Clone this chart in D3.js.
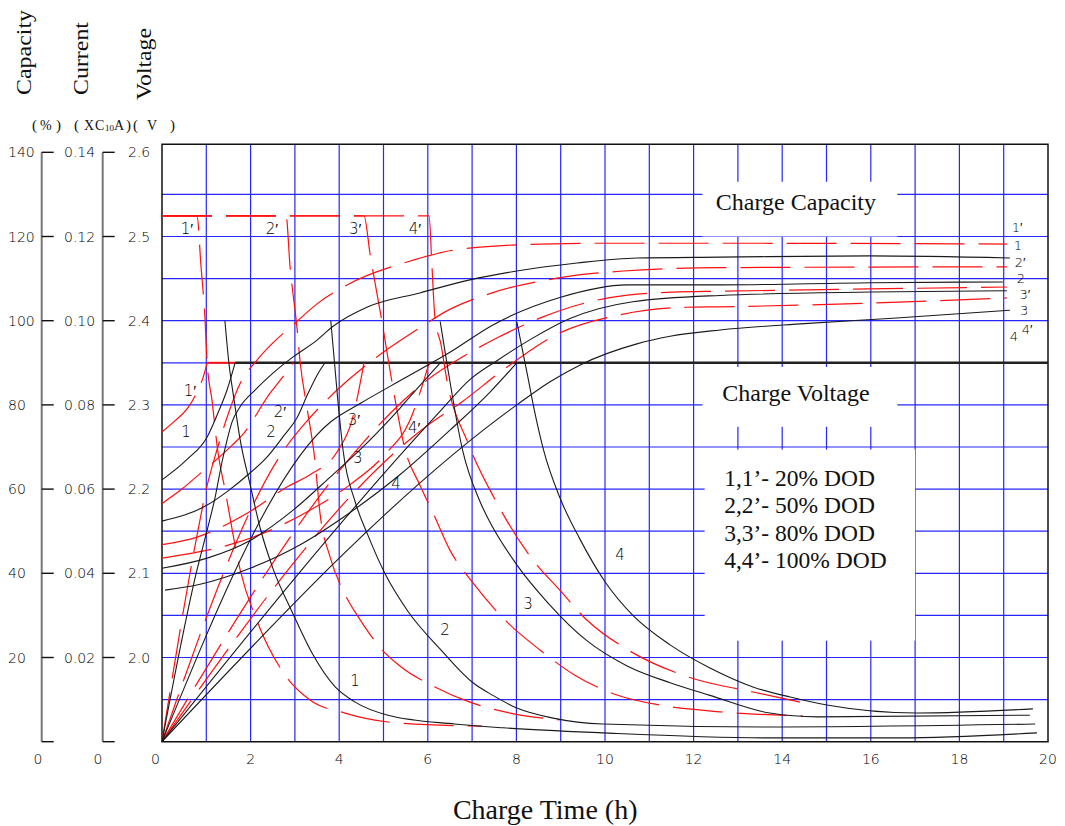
<!DOCTYPE html>
<html>
<head>
<meta charset="utf-8">
<script src="https://cdn.jsdelivr.net/npm/d3@7"></script>
<style>
  body { margin: 0; background: #fff; }
  svg { display: block; }
  .num { font-family: "DejaVu Sans", sans-serif; font-weight: 300; fill: #000; }
  .serif { font-family: "Liberation Serif", "Times New Roman", serif; fill: #111; }
</style>
</head>
<body>
<svg id="chart" width="1065" height="826"></svg>
<script>
// ---- data ----
var hourTicks = [0, 2, 4, 6, 8, 10, 12, 14, 16, 18, 20]
var capacityTicks = [140, 120, 100, 80, 60, 40, 20]
var currentTicks = ["0.14", "0.12", "0.10", "0.08", "0.06", "0.04", "0.02"]
var voltageTicks = ["2.6", "2.5", "2.4", "2.3", "2.2", "2.1", "2.0"]
var legendLines = ["1,1\u2019- 20% DOD", "2,2\u2019- 50% DOD", "3,3\u2019- 80% DOD", "4,4\u2019- 100% DOD"]

var chargeVoltage = 2.35
var chargeVoltageStart = 1.65

// current (xC10A) vs hours, solid black
var current1 = [[1.42,0.100],[1.51,0.090],[1.63,0.081],[1.76,0.072],[1.99,0.061],[2.21,0.051],[2.51,0.041],[2.93,0.031],[3.39,0.021],[3.91,0.013],[4.36,0.0094],[5.10,0.0063],[6.61,0.0042],[7.70,0.0033],[9.95,0.0021],[13.72,0.0009],[16.66,0.0009],[19.75,0.0021]]
var current2 = [[3.81,0.100],[3.97,0.081],[4.09,0.069],[4.36,0.057],[4.65,0.049],[5.03,0.040],[5.55,0.031],[6.28,0.022],[7.02,0.014],[7.47,0.011],[8.01,0.008],[8.83,0.0056],[9.95,0.0042],[13.72,0.0035],[19.71,0.0042]]
var current3 = [[6.28,0.0998],[6.43,0.090],[6.79,0.069],[7.18,0.057],[7.36,0.053],[8.01,0.042],[8.71,0.033],[9.59,0.024],[10.50,0.018],[11.47,0.014],[12.37,0.011],[13.72,0.0068],[14.79,0.0059],[19.59,0.0063]]
var current4 = [[8.01,0.0997],[8.24,0.0876],[8.42,0.078],[8.62,0.069],[8.98,0.058],[9.44,0.048],[10.0,0.038],[10.63,0.030],[11.47,0.023],[12.37,0.0175],[13.34,0.013],[14.18,0.0106],[15.01,0.0087],[17.04,0.0068],[19.66,0.0078]]
// current, dashed red
var current1p = [[0,0.1249],[0.79,0.1249],[0.88,0.113],[0.97,0.1006],[1.02,0.090],[1.13,0.081],[1.26,0.069],[1.42,0.060],[1.76,0.041],[2.17,0.028],[2.78,0.0158],[3.34,0.0099],[4.13,0.0068],[5.37,0.0044],[7.22,0.0037]]
var current2p = [[0,0.1249],[2.80,0.1249],[2.89,0.113],[3.05,0.098],[3.12,0.090],[3.27,0.0795],[3.45,0.067],[3.57,0.054],[3.79,0.044],[4.13,0.035],[4.47,0.029],[4.97,0.0218],[5.37,0.018],[6.16,0.013],[6.95,0.0094],[7.86,0.0068],[8.98,0.0052]]
var current3p = [[0,0.1249],[4.56,0.1249],[4.70,0.1156],[4.97,0.0995],[5.21,0.0843],[5.49,0.0693],[5.82,0.061],[6.12,0.0543],[6.50,0.0455],[7.02,0.0377],[7.79,0.0284],[8.53,0.0218],[9.32,0.0158],[10.27,0.0111],[11.24,0.0087],[12.60,0.0071],[14.47,0.0061]]
var current4p = [[0,0.1249],[6.03,0.1249],[6.09,0.1137],[6.16,0.1009],[6.30,0.0942],[6.43,0.0859],[6.91,0.0709],[7.56,0.0567],[8.37,0.0432],[8.98,0.036],[9.59,0.0289],[10.52,0.0218],[11.87,0.0154],[13.34,0.0118],[14.40,0.0094]]

// voltage (V) vs hours
var voltage1 = [[0,2.211],[0.56,2.235],[1.02,2.262],[1.26,2.290],[1.47,2.318],[1.65,2.350]]
var voltage2 = [[0,2.162],[1.02,2.181],[1.47,2.197],[1.94,2.217],[2.37,2.238],[2.73,2.262],[3.05,2.285],[3.30,2.314],[3.52,2.337],[3.68,2.350]]
var voltage3 = [[0,2.106],[1.02,2.118],[1.99,2.139],[2.96,2.175],[3.79,2.214],[4.63,2.255],[5.37,2.296],[5.82,2.323],[6.28,2.350]]
var voltage4 = [[0.07,2.080],[0.86,2.087],[1.99,2.106],[3.12,2.134],[4.24,2.172],[5.37,2.217],[6.50,2.270],[7.40,2.315],[8.01,2.350]]
var voltage1p = [[0,2.268],[0.29,2.281],[0.59,2.297],[0.79,2.315],[0.93,2.333],[1.02,2.350]]
var voltage2p = [[0,2.183],[0.47,2.201],[0.74,2.213],[1.58,2.252],[1.81,2.264],[2.44,2.314],[2.71,2.332],[2.96,2.350]]
var voltage3p = [[0,2.134],[0.79,2.143],[1.94,2.172],[2.84,2.203],[3.34,2.217],[3.95,2.244],[4.29,2.282],[4.56,2.350]]
var voltage4p = [[0,2.118],[0.59,2.123],[1.53,2.134],[2.44,2.151],[3.34,2.175],[4.24,2.205],[5.03,2.241],[5.60,2.282],[6.03,2.350]]
var voltageFlat1p = [[1.02,2.35],[1.65,2.35]]

// charged capacity (%) vs hours
var capacity1 = [[0,0],[0.79,40.8],[1.02,50.3],[1.20,58.1],[1.35,66.2],[1.47,71.7],[1.58,75.9],[1.76,79.5],[2.10,83.5],[2.51,87.6],[2.96,91.4],[3.50,95.4],[3.84,98.5],[4.65,103.3],[5.82,106.6],[6.95,109.7],[8.01,111.8],[9.37,113.7],[10.72,114.9],[12.60,115.1],[15.98,115.4],[19.14,114.9]]
var capacity2 = [[0,0],[3.81,76],[4.5,80.5],[5.5,86.5],[6.5,92.5],[7.47,99],[8.98,105.5],[10.5,108.5],[12.6,108.5],[16,109],[18.98,109.2]]
var capacity3 = [[0,0],[6.28,78.5],[6.95,86],[7.56,90.5],[8.31,95.5],[9.21,100.5],[10.63,104.5],[12.6,106],[16,106.8],[19.07,107.1]]
var capacity4 = [[0,0],[8.01,80],[8.76,85.5],[9.44,89.5],[10.72,94.5],[11.47,96.3],[12.6,97.8],[14.5,99.3],[16.5,100.6],[19.14,102.5]]
var capacity1p = [[0,0],[0.79,49],[1.0,60],[1.26,70],[1.5,78],[1.76,85],[2.14,90.6],[2.48,94.5],[2.96,99],[3.5,104],[4.18,108.5],[5.55,114],[6.61,116.8],[8.53,118.2],[10,118.4],[12.6,118.4],[19.07,118.2]]
var capacity2p = [[0,0],[2.8,70],[3.3,76.5],[4.0,84],[4.8,91],[5.82,98.3],[6.34,101.8],[7.45,106.6],[8.92,110.1],[10.41,111.8],[12.6,112.6],[19.07,112.8]]
var capacity3p = [[0,0],[4.56,71.3],[5.2,78.5],[6.0,86],[6.8,91.5],[7.58,96],[8.6,100.9],[10.11,105.5],[11.53,106.8],[12.6,107],[19.07,108]]
var capacity4p = [[0,0],[6.03,75.4],[6.77,80.7],[7.7,88.3],[8.98,97.1],[10.34,101.4],[11.85,103.2],[12.6,103.3],[19.07,105.4]]

// curve number labels [hours, volts-equivalent height, text, size]
var curveLabels = [
  [0.56,2.509,"1\u2032",15],[2.48,2.509,"2\u2032",15],[4.36,2.509,"3\u2032",15],[5.71,2.509,"4\u2032",15],
  [0.63,2.317,"1\u2032",15],[0.54,2.268,"1",15],[2.66,2.292,"2\u2032",15],[2.46,2.268,"2",15],
  [4.33,2.282,"3\u2032",15],[4.42,2.237,"3",15],[5.69,2.273,"4\u2032",15],[5.28,2.207,"4",15],
  [4.36,1.973,"1",15],[6.39,2.033,"2",15],[8.26,2.064,"3",15],[10.34,2.122,"4",15],
  [19.30,2.511,"1\u2032",13],[19.32,2.490,"1",13],[19.37,2.469,"2\u2032",13],[19.39,2.450,"2",13],
  [19.48,2.431,"3\u2032",13],[19.46,2.412,"3",13],[19.53,2.390,"4\u2032",13],[19.23,2.381,"4",13]
]

// unit captions under the axis titles: [glyph, left x, size]
var unitGlyphs = [
  ["(", 32, 15], ["%", 40, 14], [")", 56, 15],
  ["(", 74, 15], ["X", 84, 14], ["C", 95, 14], ["10", 105, 9], ["A", 114, 14], [")", 126, 15],
  ["(", 133, 15], ["V", 147, 14], [")", 170, 15]
]

// ---- drawing ----
var svg = d3.select("#chart")

var x = d3.scaleLinear().domain([0, 20]).range([162, 1048])
var yV = d3.scaleLinear().domain([1.9, 2.6]).range([741.7, 152.3])
var yI = d3.scaleLinear().domain([0, 0.14]).range([741.7, 152.3])
var yC = d3.scaleLinear().domain([0, 140]).range([741.7, 152.3])
var frameTop = yV(2.6) - 8

// grid
var grid = svg.append("g")
grid.selectAll("line.v").data(d3.range(1, 20)).enter().append("line")
  .attr("x1", d => x(d)).attr("x2", d => x(d))
  .attr("y1", frameTop).attr("y2", yV(1.9))
  .attr("stroke", "#2626ff").attr("stroke-width", 1.2)
grid.selectAll("line.h").data(d3.range(1, 14).map(i => 1.9 + i * 0.05)).enter().append("line")
  .attr("x1", x(0)).attr("x2", x(20))
  .attr("y1", d => yV(d)).attr("y2", d => yV(d))
  .attr("stroke", "#2626ff").attr("stroke-width", 1.2)

// white boxes that the grid is broken by
var boxes = [
  { t0: 12.2, t1: 16.6, v0: 2.50, v1: 2.565 },
  { t0: 12.2, t1: 16.6, v0: 2.274, v1: 2.345 },
  { t0: 12.25, t1: 17.0, v0: 2.02, v1: 2.247 }
]
svg.selectAll("rect.box").data(boxes).enter().append("rect")
  .attr("x", d => x(d.t0)).attr("width", d => x(d.t1) - x(d.t0))
  .attr("y", d => yV(d.v1)).attr("height", d => yV(d.v0) - yV(d.v1))
  .attr("fill", "#fff")

// frame
svg.append("path")
  .attr("d", "M" + x(20) + "," + frameTop + "H" + x(0) + "V" + yV(1.9) + "H" + x(20) + "Z")
  .attr("fill", "none").attr("stroke", "#111").attr("stroke-width", 1.5)

// charge voltage line
svg.append("line")
  .attr("x1", x(chargeVoltageStart)).attr("x2", x(20))
  .attr("y1", yV(chargeVoltage)).attr("y2", yV(chargeVoltage))
  .attr("stroke", "#222").attr("stroke-width", 2.6)

function lineFor(ys) {
  return d3.line().x(d => x(d[0])).y(d => ys(d[1])).curve(d3.curveMonotoneX)
}

var blackCurves = [
  [current1, yI], [current2, yI], [current3, yI], [current4, yI],
  [voltage1, yV], [voltage2, yV], [voltage3, yV], [voltage4, yV],
  [capacity1, yC], [capacity2, yC], [capacity3, yC], [capacity4, yC]
]
var redCurves = [
  [current1p, yI], [current2p, yI], [current3p, yI], [current4p, yI],
  [voltage1p, yV], [voltage2p, yV], [voltage3p, yV], [voltage4p, yV],
  [capacity1p, yC], [capacity2p, yC], [capacity3p, yC], [capacity4p, yC]
]

svg.append("g").selectAll("path").data(redCurves).enter().append("path")
  .attr("d", d => lineFor(d[1])(d[0]))
  .attr("fill", "none").attr("stroke", "#ff1010").attr("stroke-width", 1.2)
  .attr("stroke-dasharray", "50 14")

svg.append("path")
  .attr("d", lineFor(yV)(voltageFlat1p))
  .attr("fill", "none").attr("stroke", "#ff1010").attr("stroke-width", 2)

svg.append("g").selectAll("path").data(blackCurves).enter().append("path")
  .attr("d", d => lineFor(d[1])(d[0]))
  .attr("fill", "none").attr("stroke", "#1a1a1a").attr("stroke-width", 1.1)

// curve labels
svg.append("g").selectAll("text").data(curveLabels).enter().append("text")
  .attr("class", "num")
  .attr("x", d => x(d[0])).attr("y", d => yV(d[1]))
  .attr("dy", "0.36em").attr("text-anchor", "middle")
  .attr("font-size", d => d[3])
  .text(d => d[2])

// text in the plot
svg.append("text").attr("class", "serif")
  .attr("x", x(14.31)).attr("y", yV(2.542)).attr("dy", "0.35em")
  .attr("text-anchor", "middle").attr("font-size", 24)
  .text("Charge Capacity")
svg.append("text").attr("class", "serif")
  .attr("x", x(14.31)).attr("y", yV(2.315)).attr("dy", "0.35em")
  .attr("text-anchor", "middle").attr("font-size", 24)
  .text("Charge Voltage")
svg.append("g").selectAll("text").data(legendLines).enter().append("text")
  .attr("class", "serif")
  .attr("x", x(12.69)).attr("y", (d, i) => yV(2.214 - i * 0.0327)).attr("dy", "0.35em")
  .attr("font-size", 23.5)
  .text(d => d)

// x axis tick labels
svg.append("g").selectAll("text").data(hourTicks).enter().append("text")
  .attr("class", "num")
  .attr("x", d => d == 0 ? x(d) - 2 : x(d))
  .attr("y", yV(1.9) + 17).attr("dy", "0.36em")
  .attr("text-anchor", d => d == 0 ? "end" : "middle")
  .attr("font-size", 14)
  .text(d => d)

svg.append("text").attr("class", "serif")
  .attr("x", x(8.65)).attr("y", 819)
  .attr("text-anchor", "middle").attr("font-size", 28)
  .text("Charge Time (h)")

// left axes
var capAxisX = 41.7, curAxisX = 102.7
;[capAxisX, curAxisX].forEach(function (ax) {
  svg.append("line").attr("x1", ax).attr("x2", ax)
    .attr("y1", yC(140)).attr("y2", yC(0))
    .attr("stroke", "#777").attr("stroke-width", 2)
  svg.append("g").selectAll("line").data(capacityTicks.concat([0])).enter().append("line")
    .attr("x1", ax).attr("x2", ax + 12)
    .attr("y1", d => yC(d)).attr("y2", d => yC(d))
    .attr("stroke", "#111").attr("stroke-width", 1.4)
})

svg.append("g").selectAll("text").data(capacityTicks).enter().append("text")
  .attr("class", "num").attr("x", 8).attr("y", d => yC(d)).attr("dy", "0.36em")
  .attr("font-size", 14).text(d => d)
svg.append("g").selectAll("text").data(currentTicks).enter().append("text")
  .attr("class", "num").attr("x", 64).attr("y", d => yI(+d)).attr("dy", "0.36em")
  .attr("font-size", 14).text(d => d)
svg.append("g").selectAll("text").data(voltageTicks).enter().append("text")
  .attr("class", "num").attr("x", 128).attr("y", d => yV(+d)).attr("dy", "0.36em")
  .attr("font-size", 14).text(d => d)
svg.append("g").selectAll("text").data([38, 98]).enter().append("text")
  .attr("class", "num").attr("x", d => d).attr("y", yV(1.9) + 17).attr("dy", "0.36em")
  .attr("text-anchor", "middle").attr("font-size", 14).text("0")

// axis titles
var titles = [["Capacity", 31, 95, 85], ["Current", 88, 95, 73], ["Voltage", 151, 100, 72]]
svg.append("g").selectAll("text").data(titles).enter().append("text")
  .attr("class", "serif")
  .attr("transform", d => "translate(" + d[1] + "," + d[2] + ") rotate(-90)")
  .attr("font-size", 21)
  .attr("textLength", d => d[3]).attr("lengthAdjust", "spacingAndGlyphs")
  .text(d => d[0])

// units
svg.append("g").selectAll("text").data(unitGlyphs).enter().append("text")
  .attr("class", "serif")
  .attr("x", d => d[1]).attr("y", d => d[0] == "10" ? 131 : 130)
  .attr("font-size", d => d[2])
  .text(d => d[0])
</script>
</body>
</html>
